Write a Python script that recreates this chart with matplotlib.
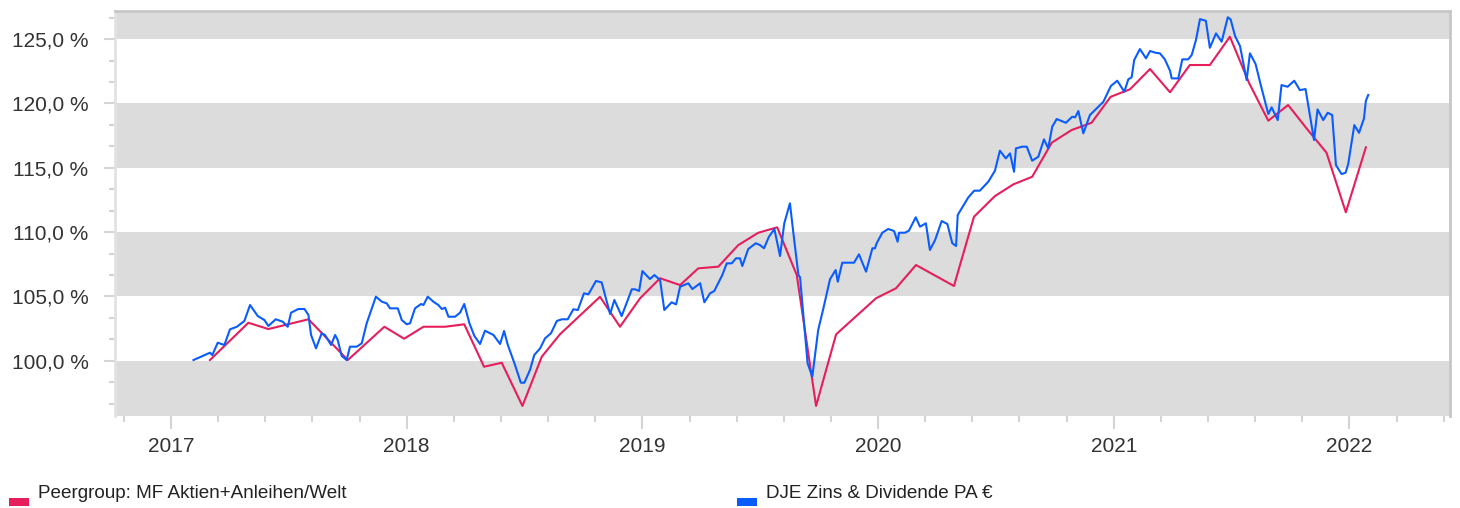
import matplotlib
matplotlib.use("Agg")
import matplotlib.pyplot as plt
from matplotlib.patches import Rectangle
from matplotlib.ticker import FuncFormatter, FixedLocator

plt.rcParams['font.family'] = ['Liberation Sans', 'DejaVu Sans']

# Peergroup (monthly), x in decimal years, y in %
peer_x = [2017.165, 2017.328, 2017.413, 2017.583, 2017.750, 2017.905, 2017.989,
          2018.071, 2018.163, 2018.244, 2018.328, 2018.403, 2018.491, 2018.573,
          2018.650, 2018.820, 2018.905, 2018.990, 2019.075, 2019.160, 2019.237,
          2019.322, 2019.407, 2019.492, 2019.572, 2019.655, 2019.737, 2019.822,
          2019.991, 2020.076, 2020.161, 2020.322, 2020.407, 2020.496, 2020.574,
          2020.654, 2020.737, 2020.821, 2020.906, 2020.987, 2021.069, 2021.154,
          2021.239, 2021.323, 2021.408, 2021.493, 2021.575, 2021.656, 2021.740,
          2021.818, 2021.903, 2021.985, 2022.070]
peer_y = [100.05, 102.95, 102.46, 103.22, 100.05, 102.64, 101.71,
          102.64, 102.64, 102.83, 99.53, 99.84, 96.48, 100.31,
          102.05, 104.97, 102.64, 104.85, 106.41, 105.88, 107.18,
          107.31, 108.99, 109.95, 110.37, 106.66, 96.48, 102.05,
          104.85, 105.63, 107.44, 105.81, 111.19, 112.80, 113.71,
          114.30, 116.95, 117.93, 118.50, 120.52, 121.10, 122.68,
          120.87, 122.99, 122.99, 125.19, 121.57, 118.66, 119.88,
          118.07, 116.17, 111.54, 116.59]

# DJE Zins & Dividende PA (weekly)
fund_x = [2017.095, 2017.165, 2017.175, 2017.198, 2017.226, 2017.250, 2017.279, 2017.311,
          2017.335, 2017.368, 2017.396, 2017.413, 2017.444, 2017.474, 2017.495, 2017.509,
          2017.540, 2017.566, 2017.583, 2017.594, 2017.615, 2017.639, 2017.653, 2017.679,
          2017.696, 2017.707, 2017.724, 2017.745, 2017.759, 2017.788, 2017.809, 2017.830,
          2017.869, 2017.894, 2017.915, 2017.929, 2017.962, 2017.979, 2018.000, 2018.014,
          2018.035, 2018.061, 2018.071, 2018.089, 2018.113, 2018.134, 2018.149, 2018.163,
          2018.177, 2018.205, 2018.226, 2018.244, 2018.266, 2018.287, 2018.311, 2018.332,
          2018.368, 2018.396, 2018.413, 2018.429, 2018.457, 2018.484, 2018.499, 2018.523,
          2018.541, 2018.566, 2018.587, 2018.612, 2018.637, 2018.658, 2018.683, 2018.707,
          2018.726, 2018.752, 2018.771, 2018.803, 2018.827, 2018.863, 2018.881, 2018.912,
          2018.955, 2018.969, 2018.986, 2019.000, 2019.032, 2019.051, 2019.075, 2019.093,
          2019.124, 2019.143, 2019.160, 2019.195, 2019.212, 2019.245, 2019.263, 2019.287,
          2019.305, 2019.339, 2019.358, 2019.379, 2019.397, 2019.414, 2019.424, 2019.449,
          2019.481, 2019.499, 2019.516, 2019.537, 2019.560, 2019.584, 2019.602, 2019.626,
          2019.640, 2019.662, 2019.669, 2019.701, 2019.721, 2019.746, 2019.768, 2019.796,
          2019.820, 2019.829, 2019.848, 2019.898, 2019.919, 2019.949, 2019.976, 2019.987,
          2019.994, 2020.018, 2020.043, 2020.068, 2020.083, 2020.089, 2020.114, 2020.131,
          2020.160, 2020.178, 2020.203, 2020.220, 2020.242, 2020.270, 2020.294, 2020.315,
          2020.331, 2020.338, 2020.383, 2020.408, 2020.432, 2020.468, 2020.496, 2020.517,
          2020.542, 2020.560, 2020.577, 2020.585, 2020.612, 2020.631, 2020.654, 2020.680,
          2020.704, 2020.722, 2020.739, 2020.758, 2020.797, 2020.824, 2020.836, 2020.850,
          2020.871, 2020.899, 2020.928, 2020.956, 2020.988, 2021.015, 2021.045, 2021.062,
          2021.076, 2021.087, 2021.111, 2021.137, 2021.154, 2021.178, 2021.196, 2021.217,
          2021.239, 2021.246, 2021.274, 2021.291, 2021.316, 2021.331, 2021.349, 2021.366,
          2021.391, 2021.408, 2021.434, 2021.458, 2021.484, 2021.496, 2021.515, 2021.536,
          2021.564, 2021.578, 2021.602, 2021.625, 2021.656, 2021.670, 2021.696, 2021.712,
          2021.738, 2021.766, 2021.790, 2021.814, 2021.850, 2021.865, 2021.889, 2021.908,
          2021.927, 2021.943, 2021.967, 2021.984, 2021.995, 2022.021, 2022.041, 2022.062,
          2022.070, 2022.080]
fund_y = [100.05, 100.62, 100.44, 101.40, 101.22, 102.44, 102.64, 103.09,
          104.33, 103.47, 103.16, 102.70, 103.22, 103.03, 102.64, 103.73,
          104.02, 104.02, 103.55, 102.00, 100.96, 102.13, 102.00, 101.22,
          102.00, 101.61, 100.37, 100.05, 101.09, 101.09, 101.35, 102.91,
          104.98, 104.59, 104.46, 104.07, 104.07, 103.16, 102.83, 102.91,
          104.07, 104.41, 104.33, 104.98, 104.59, 104.33, 104.02, 104.12,
          103.42, 103.42, 103.73, 104.41, 102.91, 101.92, 101.30, 102.33,
          102.00, 101.30, 102.31, 101.22, 99.80, 98.29, 98.29, 99.28,
          100.44, 100.96, 101.74, 102.13, 103.09, 103.22, 103.22, 104.00,
          103.94, 105.24, 105.16, 106.20, 106.09, 103.63, 104.72, 103.47,
          105.55, 105.55, 105.42, 106.97, 106.35, 106.66, 106.27, 103.94,
          104.54, 104.38, 105.75, 106.02, 105.57, 106.02, 104.54, 105.24,
          105.42, 106.66, 107.57, 107.57, 107.96, 107.96, 107.36, 108.68,
          109.13, 108.99, 108.74, 109.64, 110.24, 108.14, 110.68, 112.24,
          110.03, 106.66, 106.48, 99.80, 98.76, 102.39, 104.07, 106.33,
          107.05, 106.14, 107.62, 107.62, 108.27, 106.92, 108.74, 108.74,
          109.13, 109.95, 110.24, 110.08, 109.25, 109.95, 109.95, 110.11,
          111.15, 110.42, 110.68, 108.61, 109.38, 110.86, 110.63, 109.13,
          108.92, 111.33, 112.70, 113.22, 113.22, 113.92, 114.77, 116.33,
          115.73, 116.12, 114.69, 116.51, 116.64, 116.64, 115.55, 115.86,
          117.21, 116.51, 118.19, 118.79, 118.50, 118.97, 118.92, 119.41,
          117.68, 119.10, 119.62, 120.13, 121.36, 121.77, 120.91, 121.88,
          122.03, 123.38, 124.23, 123.51, 124.08, 123.94, 123.90, 123.43,
          122.54, 121.95, 121.95, 123.43, 123.43, 123.77, 124.93, 126.56,
          126.43, 124.33, 125.45, 124.80, 126.70, 126.54, 125.24, 124.46,
          121.82, 123.90, 123.07, 121.36, 119.18, 119.70, 118.71, 121.43,
          121.30, 121.77, 121.04, 121.12, 117.16, 119.54, 118.71, 119.28,
          119.10, 115.21, 114.51, 114.62, 115.29, 118.32, 117.72, 118.84,
          120.21, 120.66]

years = [2017, 2018, 2019, 2020, 2021, 2022]
y_major = [100, 105, 110, 115, 120, 125]

peer_label = "Peergroup: MF Aktien+Anleihen/Welt"
fund_label = "DJE Zins & Dividende PA €"
peer_color = "#e61e5c"
fund_color = "#0a5cff"

fig = plt.figure(figsize=(14.6, 5.08), dpi=100)
ax = fig.add_axes([115 / 1460, 1 - 416 / 508, 1335 / 1460, 405 / 508])

ymin, ymax = 95.70, 127.19
ax.set_xlim(2016.762, 2022.427)
ax.set_ylim(ymin, ymax)

# alternating bands
band = "#dcdcdc"
for lo, hi in [(ymin, 100), (105, 110), (115, 120), (125, ymax)]:
    ax.axhspan(lo, hi, color=band, lw=0, zorder=0)

ax.plot(peer_x, peer_y, color=peer_color, lw=1.5, zorder=3)
ax.plot(fund_x, fund_y, color=fund_color, lw=1.5, zorder=4)

# ticks
ax.yaxis.set_major_locator(FixedLocator(y_major))
ax.yaxis.set_minor_locator(FixedLocator([v + k * 5 / 3 for v in range(95, 130, 5) for k in (1, 2)]))
ax.yaxis.set_major_formatter(FuncFormatter(lambda v, p: f"{v:.1f} %".replace(".", ",")))
ax.xaxis.set_major_locator(FixedLocator(years))
ax.xaxis.set_minor_locator(FixedLocator([y + k / 5 for y in range(2016, 2023) for k in range(1, 5)]))
ax.xaxis.set_major_formatter(FuncFormatter(lambda v, p: f"{int(round(v))}"))

tick_col = "#d4d4d4"
ax.tick_params(axis="y", which="major", length=8, width=1.5, color=tick_col,
               labelsize=15, labelcolor="#333333", pad=11)
ax.tick_params(axis="y", which="minor", length=4, width=1.5, color=tick_col)
ax.tick_params(axis="x", which="major", length=9, width=1.5, color=tick_col,
               labelsize=15, labelcolor="#333333", pad=6)
ax.tick_params(axis="x", which="minor", length=4.5, width=1.5, color=tick_col)

for side in ["left", "right", "top", "bottom"]:
    ax.spines[side].set_linewidth(2)
ax.spines["left"].set_color("#e2e2e2")
ax.spines["top"].set_color("#c6c6c6")
ax.spines["right"].set_color("#c6c6c6")
ax.spines["bottom"].set_visible(False)

# legend below the plot
for x0, col, lab in [(9, peer_color, peer_label), (737, fund_color, fund_label)]:
    fig.patches.append(Rectangle((x0 / 1460, 1 - 506 / 508), 20 / 1460, 8 / 508,
                                 transform=fig.transFigure, color=col, lw=0))
    fig.text((x0 + 29) / 1460, 1 - 494 / 508, lab, fontsize=13.6, color="#222222",
             va="center", ha="left")

fig.savefig("out.png", dpi=100)
